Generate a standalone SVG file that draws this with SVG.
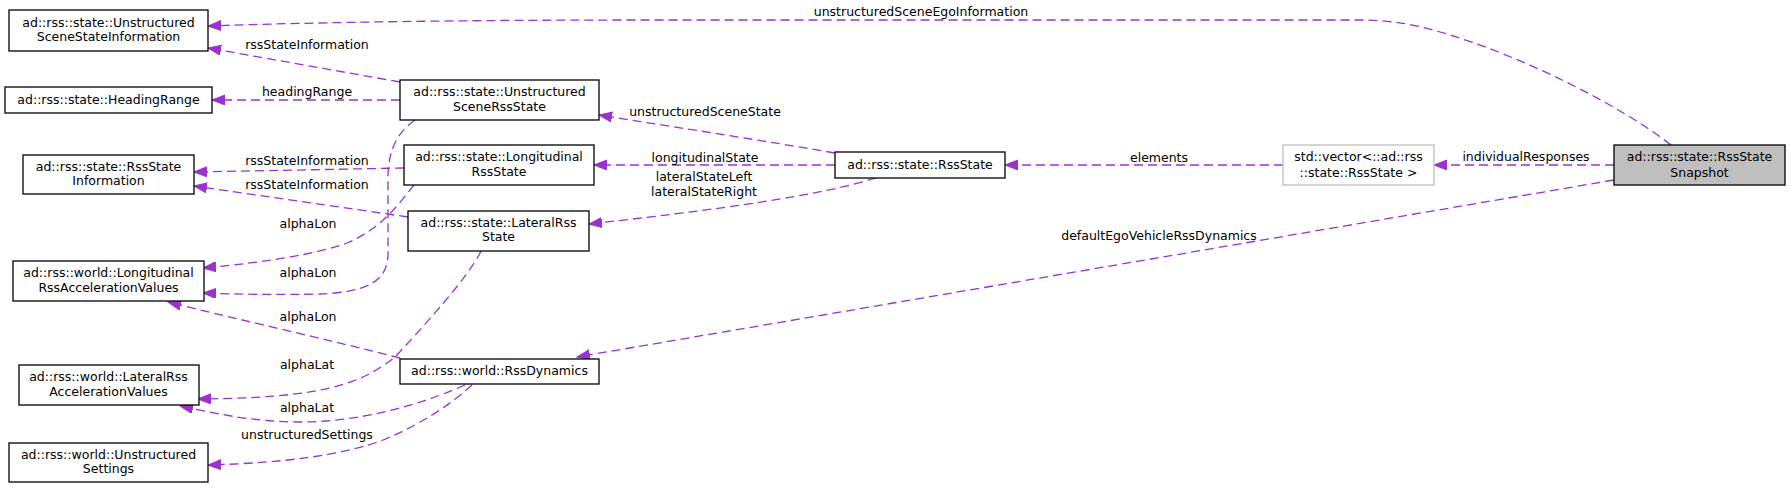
<svg xmlns="http://www.w3.org/2000/svg" width="1791" height="489" viewBox="0 0 1791 489">
<defs>
<style>
.n rect{fill:#fff;stroke:#000;stroke-width:1.3}
.n text,.lbl text{font-family:"DejaVu Sans",sans-serif;font-size:12.5px;fill:#000}
.n text{text-anchor:middle}
.lbl text{text-anchor:middle}
.e path{fill:none;stroke:#9a32cd;stroke-width:1.3;stroke-dasharray:9,5;marker-end:url(#arr)}
</style>
<marker id="arr" markerUnits="userSpaceOnUse" markerWidth="14" markerHeight="11" refX="13" refY="5" orient="auto" viewBox="0 0 14 11">
<path d="M0,0 L13,5 L0,10 z" fill="#9a32cd" stroke="#9a32cd" stroke-width="1"/>
</marker>
</defs>
<rect width="1791" height="489" fill="#fff"/>
<g id="connectors" class="e">
<path d="M1671,145 C1620,105 1520,55 1440,32 C1410,23 1385,20 1360,20 L640,20 C480,20 320,22 208,26"/>
<path d="M400,82 L208,48"/>
<path d="M400,100 L212,100"/>
<path d="M835,153 C760,140 680,128 599,115"/>
<path d="M835,165 L594,165"/>
<path d="M876,178 C830,192 760,205 589,224"/>
<path d="M1283,165 L1005,165"/>
<path d="M1614,165 L1434,165"/>
<path d="M1614,180 L577,357"/>
<path d="M404,168 L194,172"/>
<path d="M408,217 L194,186"/>
<path d="M414,185 C398,205 382,228 347,243 C320,253 270,262 203,268"/>
<path d="M415,120 C398,132 389,148 388,175 L388,255 C387,280 370,292 320,294 C270,295 230,294 203,293"/>
<path d="M400,358 C330,340 240,320 168,302"/>
<path d="M481,251 C470,275 425,325 395,357 C360,385 320,398 198,399"/>
<path d="M465,385 C420,405 360,422 300,422 C250,422 210,412 180,406"/>
<path d="M472,385 C450,405 420,425 383,440 C340,456 280,463 208,465"/>
</g>
<g id="labels" class="lbl">
<text x="921" y="16">unstructuredSceneEgoInformation</text>
<text x="307" y="48.5">rssStateInformation</text>
<text x="307" y="95.5">headingRange</text>
<text x="705" y="115.5">unstructuredSceneState</text>
<text x="705" y="161.5">longitudinalState</text>
<text x="704" y="180.5">lateralStateLeft</text>
<text x="704" y="195.5">lateralStateRight</text>
<text x="1159" y="161.5">elements</text>
<text x="1526" y="160.5">individualResponses</text>
<text x="1159" y="239.5">defaultEgoVehicleRssDynamics</text>
<text x="307" y="164.5">rssStateInformation</text>
<text x="307" y="189">rssStateInformation</text>
<text x="308" y="228">alphaLon</text>
<text x="308" y="276.5">alphaLon</text>
<text x="308" y="321">alphaLon</text>
<text x="307" y="369">alphaLat</text>
<text x="307" y="412">alphaLat</text>
<text x="307" y="439">unstructuredSettings</text>
</g>
<g id="n_ussi" class="n"><rect x="9" y="10" width="199" height="41"/><text x="108.5" y="27.2">ad::rss::state::Unstructured</text><text x="108.5" y="41.2">SceneStateInformation</text></g>
<g id="n_heading" class="n"><rect x="5" y="87" width="207" height="26"/><text x="108.5" y="104">ad::rss::state::HeadingRange</text></g>
<g id="n_usrs" class="n"><rect x="400" y="80" width="199" height="40"/><text x="499.5" y="95.5">ad::rss::state::Unstructured</text><text x="499.5" y="111">SceneRssState</text></g>
<g id="n_long" class="n"><rect x="404" y="145" width="190" height="40"/><text x="499" y="161">ad::rss::state::Longitudinal</text><text x="499" y="176">RssState</text></g>
<g id="n_rsi" class="n"><rect x="23" y="155" width="171" height="39"/><text x="108.5" y="170.5">ad::rss::state::RssState</text><text x="108.5" y="185">Information</text></g>
<g id="n_lat" class="n"><rect x="408" y="211" width="181" height="40"/><text x="498.5" y="227">ad::rss::state::LateralRss</text><text x="498.5" y="241">State</text></g>
<g id="n_longacc" class="n"><rect x="13" y="261" width="191" height="40"/><text x="108.5" y="277">ad::rss::world::Longitudinal</text><text x="108.5" y="292">RssAccelerationValues</text></g>
<g id="n_dyn" class="n"><rect x="400" y="359" width="199" height="25"/><text x="499.5" y="375">ad::rss::world::RssDynamics</text></g>
<g id="n_latacc" class="n"><rect x="19" y="365" width="180" height="40"/><text x="108.5" y="381">ad::rss::world::LateralRss</text><text x="108.5" y="396">AccelerationValues</text></g>
<g id="n_uset" class="n"><rect x="9" y="443" width="199" height="39"/><text x="108.5" y="458.5">ad::rss::world::Unstructured</text><text x="108.5" y="473">Settings</text></g>
<g id="n_rssstate" class="n"><rect x="835" y="152" width="170" height="26"/><text x="920" y="169">ad::rss::state::RssState</text></g>
<g id="n_vector" class="n"><rect x="1283" y="145" width="151" height="40" style="stroke:#bfbfbf"/><text x="1358.5" y="160.5">std::vector&lt;::ad::rss</text><text x="1358.5" y="176.5">::state::RssState &gt;</text></g>
<g id="n_snap" class="n"><rect x="1614" y="145" width="171" height="40" style="fill:#bfbfbf"/><text x="1699.5" y="160.5">ad::rss::state::RssState</text><text x="1699.5" y="176.5">Snapshot</text></g>
</svg>
